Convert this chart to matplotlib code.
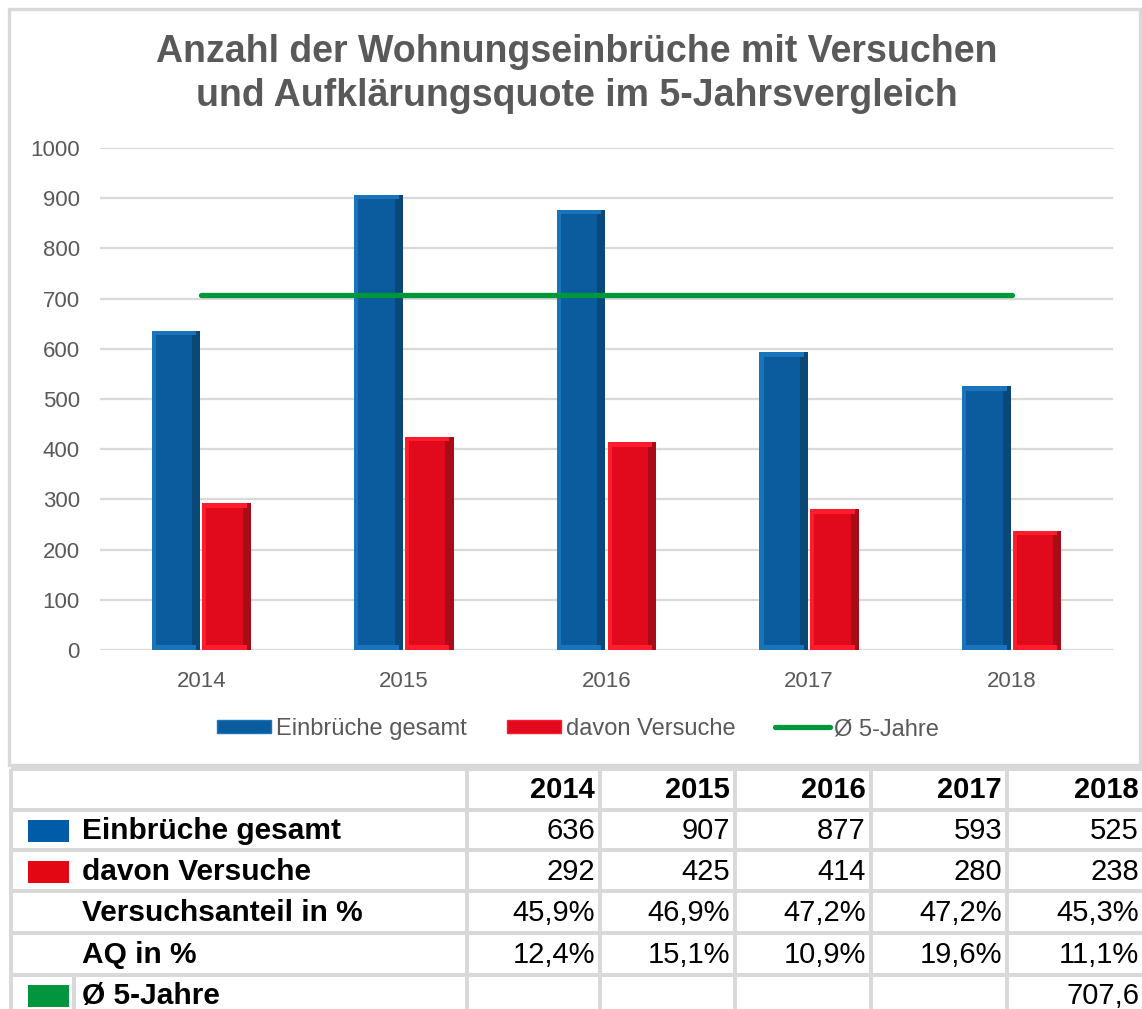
import numpy as np
import matplotlib
matplotlib.use('Agg')
import matplotlib.pyplot as plt
from matplotlib.patches import Rectangle, Patch
from matplotlib.lines import Line2D

plt.rcParams['font.family'] = ['Liberation Sans', 'DejaVu Sans']

years = ['2014', '2015', '2016', '2017', '2018']
einbrueche = [636, 907, 877, 593, 525]
versuche = [292, 425, 414, 280, 238]
aq_prozent = [12.4, 15.1, 10.9, 19.6, 11.1]
title = 'Anzahl der Wohnungseinbrüche mit Versuchen\nund Aufklärungsquote im 5-Jahrsvergleich'

avg_5y = np.mean(einbrueche)
anteil = [100 * v / e for v, e in zip(versuche, einbrueche)]


def de(v, pct=False):
    s = f'{v:.1f}'.replace('.', ',')
    return s + '%' if pct else s


BLUE, BLUE_L, BLUE_D = '#0a5c9e', '#1a74bb', '#0a4878'
RED, RED_L, RED_D = '#e00a1c', '#ff1c2c', '#a80c18'
GREEN = '#00973a'
GRID = '#d9d9d9'
TXT = '#595959'

W, H = 1142, 1009
fig = plt.figure(figsize=(W / 100, H / 100), dpi=100)

# overlay in pixel coordinates for border, title and table
ov = fig.add_axes([0, 0, 1, 1], zorder=0)
ov.set_xlim(0, W)
ov.set_ylim(H, 0)
ov.axis('off')

ov.add_patch(Rectangle((9, 9), 1131, 756, facecolor='white', edgecolor=GRID, lw=2.4))
ov.text(577, 74, title, ha='center', va='center', fontsize=27, fontweight='bold',
        color=TXT, linespacing=1.3)

# chart
ax = fig.add_axes([100 / W, 1 - 650 / H, 1013 / W, 502 / H], zorder=1)
ax.set_facecolor('none')
x = np.arange(len(years))
w, off = 0.24, 0.125


def bevel_bars(xs, heights, base, light, dark):
    heights = np.array(heights, dtype=float)
    ax.bar(xs, heights, w, color=base, zorder=3)
    ax.bar(xs - w / 2 + 0.01, heights, 0.02, color=light, zorder=4)
    ax.bar(xs + w / 2 - 0.02, heights, 0.04, color=dark, zorder=4)
    ax.bar(xs - 0.01, 9, w - 0.02, bottom=heights - 9, color=light, zorder=5)
    ax.bar(xs - 0.01, 9, w - 0.02, color=light, zorder=5)


bevel_bars(x - off, einbrueche, BLUE, BLUE_L, BLUE_D)
bevel_bars(x + off, versuche, RED, RED_L, RED_D)
ax.plot([x[0], x[-1]], [avg_5y, avg_5y], color=GREEN, lw=3.8,
        solid_capstyle='round', zorder=6)

ax.set_xlim(-0.5, len(years) - 0.5)
ax.set_ylim(0, 1000)
ax.set_yticks(range(0, 1001, 100))
ax.set_xticks(x)
ax.set_xticklabels(years)
ax.tick_params(axis='both', length=0, labelsize=16, labelcolor=TXT)
ax.tick_params(axis='y', pad=14.4)
ax.tick_params(axis='x', pad=15)
ax.grid(axis='y', color=GRID, lw=1.6, zorder=0)
for s in ax.spines.values():
    s.set_visible(False)

handles = [Patch(facecolor=BLUE, edgecolor=BLUE_L, lw=1),
           Patch(facecolor=RED, edgecolor=RED_L, lw=1),
           Line2D([0], [0], color=GREEN, lw=3.8, solid_capstyle='round')]
labels = ['Einbrüche gesamt', 'davon Versuche', 'Ø 5-Jahre']
ax.legend(handles, labels, loc='center', bbox_to_anchor=(578 / W, 1 - 729 / H),
          bbox_transform=fig.transFigure, ncol=3, frameon=False, fontsize=17,
          handlelength=2.3, handleheight=0.5, handletextpad=0.2,
          columnspacing=1.7, labelcolor=TXT)

# table
row_edges = [769, 810, 850, 891, 933, 975, 1016]
col_edges = [11, 467, 600, 735, 871, 1007, 1144]
lw_t = 2.9
for yy in row_edges[:-1]:
    ov.plot([col_edges[0], W], [yy, yy], color=GRID, lw=lw_t, solid_capstyle='butt')
for xx in col_edges[:-1]:
    ov.plot([xx, xx], [row_edges[0], H], color=GRID, lw=lw_t, solid_capstyle='butt')
ov.plot([74, 74], [row_edges[5], H], color=GRID, lw=lw_t, solid_capstyle='butt')

row_labels = ['', 'Einbrüche gesamt', 'davon Versuche', 'Versuchsanteil in %', 'AQ in %', 'Ø 5-Jahre']
swatches = [None, BLUE, RED, None, None, GREEN]
row_values = [years,
              [str(v) for v in einbrueche],
              [str(v) for v in versuche],
              [de(v, True) for v in anteil],
              [de(v, True) for v in aq_prozent],
              ['', '', '', '', de(avg_5y)]]
swatch_colors = {BLUE: '#005ca8', RED: '#e30613', GREEN: '#00963f'}

for i, (lab, sw, vals) in enumerate(zip(row_labels, swatches, row_values)):
    yc = (row_edges[i] + row_edges[i + 1]) / 2 + 1
    if i == 5:
        yc = 996
    if sw is not None:
        ov.add_patch(Rectangle((28, yc - 11), 41, 22, facecolor=swatch_colors[sw],
                               edgecolor='none'))
    ov.text(82, yc, lab, ha='left', va='center', fontsize=21.5, fontweight='bold',
            color='black')
    for j, v in enumerate(vals):
        ov.text(col_edges[j + 2] - 5, yc, v, ha='right', va='center', fontsize=21,
                fontweight='bold' if i == 0 else 'normal', color='black')

fig.savefig('out.png', dpi=100)
